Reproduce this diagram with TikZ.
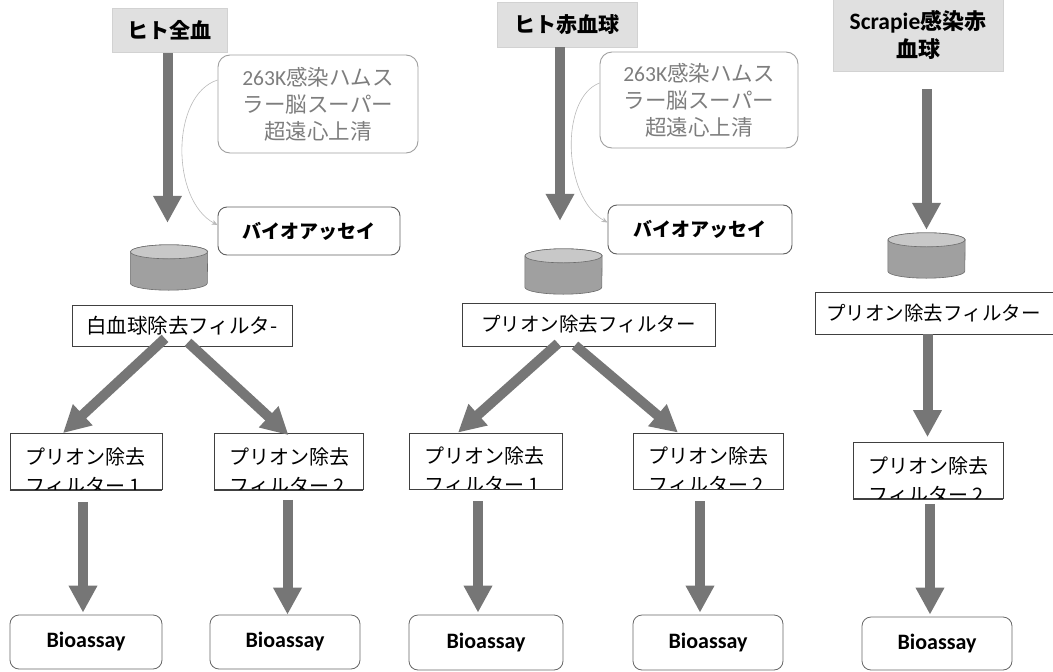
\documentclass[tikz,border=0pt]{standalone}
\usepackage{fontspec}
\setmainfont{Noto Sans CJK JP}
\newfontfamily\lat{Carlito}
\usetikzlibrary{arrows.meta}
\definecolor{arr}{RGB}{118,118,118}
\definecolor{ttl}{RGB}{224,224,224}
\definecolor{gtxt}{RGB}{125,125,125}
\definecolor{cylb}{RGB}{160,160,160}
\definecolor{cylt}{RGB}{200,200,200}
\tikzset{
  big/.style={line width=10pt, draw=arr, -{Triangle[length=27pt,width=27pt]}},
  thin/.style={draw=gray!55, line width=0.6pt, -{Stealth[length=6pt,width=5pt]}},
  ttlbox/.style={fill=ttl, draw=gray!35, line width=0.5pt, inner sep=0, font=\bfseries\fontsize{21}{26}\selectfont, align=center},
  gbox/.style={draw=gray!75, rounded corners=12pt, line width=0.9pt, text=gtxt, inner sep=0, align=center, font=\fontsize{21.5}{27}\selectfont},
  bbox/.style={draw=gray!75!black, rounded corners=9pt, line width=0.9pt, inner sep=0, font=\bfseries\fontsize{19}{24}\selectfont},
  fbox/.style={draw=black!75, fill=white, line width=0.8pt, inner sep=0, font=\fontsize{20.5}{24}\selectfont},
  ptext/.style={inner sep=0, align=left, font=\fontsize{20}{29}\selectfont},
  rbox/.style={draw=gray!80!black, rounded corners=9pt, line width=0.8pt, inner sep=0, font=\lat\bfseries\fontsize{22}{24}\selectfont},
  cylbody/.style={fill=cylb, draw=gray!85!black, line width=0.6pt},
  cyltop/.style={fill=cylt, draw=gray!85!black, line width=0.6pt}
}
\newcommand\mycyl[2]{%
  \node[minimum width=77pt, minimum height=45pt, inner sep=0] (#1) at (#2) {};
  \filldraw[cylbody] ([yshift=-7pt]#1.north west) -- ([yshift=7pt]#1.south west)
    arc[start angle=180,end angle=360,x radius=38.5pt,y radius=7pt]
    -- ([yshift=-7pt]#1.north east)
    arc[start angle=0,end angle=180,x radius=38.5pt,y radius=7pt] -- cycle;
  \filldraw[cyltop] ([yshift=-7pt]#1.north) ellipse [x radius=38.5pt, y radius=7pt];
}
\newcommand\pbox[4]{%
  \node[fbox, minimum width=#3pt, minimum height=56pt] (#1) at (#2) {};
  \begin{scope}
    \clip (#1.south west) rectangle (#1.north east);
    \node[ptext, anchor=north west] (#1t) at ([xshift=16pt,yshift=-14pt]#1.north west) {#4};
  \end{scope}
  \draw[black!75, line width=0.8pt] (#1.south west) -- (#1.south east);
}
\begin{document}
\begin{tikzpicture}[x=1pt,y=-1pt]
\useasboundingbox (0,0) rectangle (1053,672);

% ---------- column 1 ----------
\node[ttlbox, minimum width=115pt, minimum height=44pt] (t1) at (169.5,30) {ヒト全血};
\node[gbox, minimum width=200pt, minimum height=98pt] (g1) at (318,104) {{\lat 263K}感染ハムス\\ラー脳スーパー\\超遠心上清};
\node[bbox, minimum width=182pt, minimum height=48pt] (b1) at (309,231) {バイオアッセイ};
\mycyl{c1}{169,267.5}
\node[fbox, minimum width=220pt, minimum height=41pt] (f1) at (182,325.5) {白血球除去フィルタ-};
\pbox{p11}{86,461.5}{152}{プリオン除去\\フィルター 1}
\pbox{p12}{288.5,461.5}{149}{プリオン除去\\フィルター 2}
\node[rbox, minimum width=152pt, minimum height=54pt] (r11) at (86,642) {Bioassay};
\node[rbox, minimum width=150pt, minimum height=54pt] (r12) at (285,642) {Bioassay};

\draw[big, shorten <=1pt, shorten >=22pt] ([xshift=-2pt]t1.south) -- ([xshift=-2pt]t1.south |- c1.north);
\draw[thin] ([yshift=24pt]g1.west) .. controls +(-47,15) and +(-47,-25) .. ([yshift=6pt]b1.west);
\draw[big] ([xshift=-17pt,yshift=8pt]f1.south) -- ([xshift=-23pt]p11.north);
\draw[big] ([xshift=6pt,yshift=4pt]f1.south) -- ([yshift=-2pt]p12.north);
\draw[big, shorten <=12pt, shorten >=2pt] ([xshift=-3pt]p11.south) -- ([xshift=-3pt]p11.south |- r11.north);
\draw[big, shorten <=10pt] ([xshift=-1pt]p12.south) -- ([xshift=-1pt]p12.south |- r12.north);

% ---------- column 2 ----------
\node[ttlbox, minimum width=140pt, minimum height=45pt] (t2) at (567,24.5) {ヒト赤血球};
\node[gbox, minimum width=198pt, minimum height=96pt] (g2) at (699,100) {{\lat 263K}感染ハムス\\ラー脳スーパー\\超遠心上清};
\node[bbox, minimum width=184pt, minimum height=49pt] (b2) at (700,229.5) {バイオアッセイ};
\mycyl{c2}{563.5,271.5}
\node[fbox, minimum width=253pt, minimum height=43pt] (f2) at (588.5,324.5) {\fontsize{19.5}{24}\selectfont プリオン除去フィルター};
\pbox{p21}{485.5,461}{153}{プリオン除去\\フィルター 1}
\pbox{p22}{708,461}{150}{プリオン除去\\フィルター 2}
\node[rbox, minimum width=154pt, minimum height=55pt] (r21) at (486,642.5) {Bioassay};
\node[rbox, minimum width=150pt, minimum height=55pt] (r22) at (708,642.5) {Bioassay};

\draw[big, shorten >=28pt] ([xshift=-3.5pt]c2.north |- t2.south) -- ([xshift=-3.5pt]c2.north);
\draw[thin] ([yshift=17pt]g2.west) .. controls +(-40,15) and +(-45,-25) .. ([yshift=7pt]b2.west);
\draw[big] ([xshift=-30.5pt,yshift=3pt]f2.south) -- ([xshift=-27.5pt]p21.north);
\draw[big] ([xshift=-13.5pt,yshift=1pt]f2.south) -- ([xshift=-30pt]p22.north);
\draw[big, shorten <=12pt, shorten >=2pt] ([xshift=-7.5pt]p21.south) -- ([xshift=-7.5pt]p21.south |- r21.north);
\draw[big, shorten <=12pt, shorten >=2pt] ([xshift=-8pt]p22.south) -- ([xshift=-8pt]p22.south |- r22.north);

% ---------- column 3 ----------
\node[ttlbox, minimum width=170pt, minimum height=72pt, font=\bfseries\fontsize{22}{27}\selectfont] (t3) at (918,35) {{\lat\bfseries\fontsize{23.5}{27}\selectfont Scrapie}感染赤\\[1pt]血球};
\mycyl{c3}{926.5,255.5}
\node[fbox, minimum width=245pt, minimum height=42pt] (f3) at (937.5,313) {\fontsize{19.5}{24}\selectfont\hspace*{-8pt}プリオン除去フィルター};
\pbox{p3}{928,470.5}{150}{プリオン除去\\フィルター 2}
\node[rbox, minimum width=150pt, minimum height=53pt] (r3) at (937,643.5) {Bioassay};

\draw[big, shorten <=18pt, shorten >=3pt] (c3.north |- t3.south) -- (c3.north);
\draw[big, shorten >=5pt] ([xshift=-0.5pt]p3.north |- f3.south) -- ([xshift=-0.5pt]p3.north);
\draw[big, shorten <=5pt, shorten >=2pt] ([xshift=2pt]p3.south) -- ([xshift=2pt]p3.south |- r3.north);
\end{tikzpicture}
\end{document}
